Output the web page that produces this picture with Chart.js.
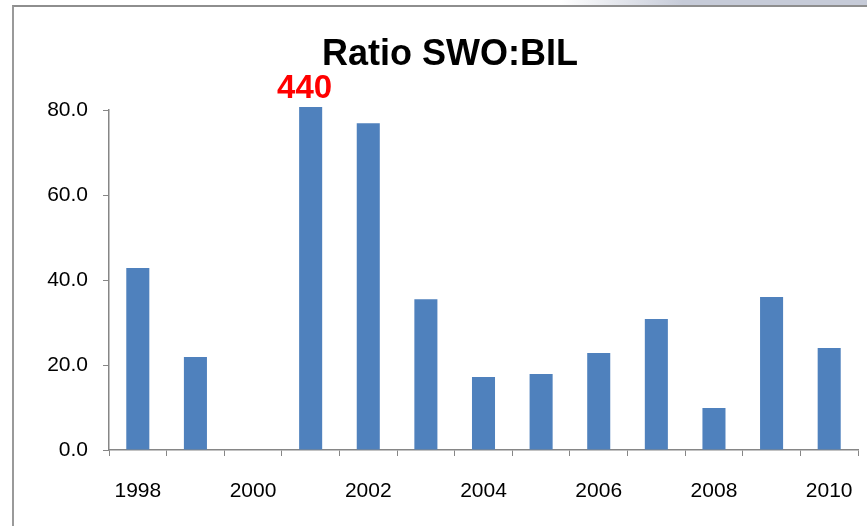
<!DOCTYPE html>
<html>
<head>
<meta charset="utf-8">
<script src="https://cdn.jsdelivr.net/npm/chart.js@4.4.0/dist/chart.umd.min.js"></script>
<style>
  html, body { margin: 0; padding: 0; background: #fff; }
  #wrap { position: relative; width: 867px; height: 526px; overflow: hidden; }
  #shade { position: absolute; left: 560px; top: 0; width: 307px; height: 5px;
           background: linear-gradient(to right, rgba(200,205,218,0), #c6cbd8 40%, #c6cbd8); }
  #frame { position: absolute; left: 12px; top: 5px; width: 900px; height: 600px;
           border-top: 2px solid #8e8e8e; border-left: 2px solid #9a9a9a; box-sizing: border-box; }
  canvas { position: absolute; left: 0; top: 0; }
</style>
</head>
<body>
<div id="wrap">
  <div id="shade"></div>
  <div id="frame"></div>
  <canvas id="c" width="867" height="526"></canvas>
</div>
<script>
const titleText = 'Ratio SWO:BIL';
const years = ['1998','1999','2000','2001','2002','2003','2004','2005','2006','2007','2008','2009','2010'];
const ratio = [42.8, 21.9, null, 440, 76.9, 35.5, 17.2, 17.9, 22.8, 30.8, 9.9, 36.0, 24.0];
const yTicks = [0, 20, 40, 60, 80];
const outlierIndex = 3;

const axisColor = '#868686';

const overlay = {
  id: 'overlay',
  afterDraw(chart) {
    const ctx = chart.ctx;
    ctx.save();
    ctx.fillStyle = '#000';
    ctx.font = 'bold 36px "Liberation Sans", Arial, sans-serif';
    ctx.textAlign = 'center';
    ctx.textBaseline = 'alphabetic';
    ctx.fillText(titleText, 450, 65);
    const el = chart.getDatasetMeta(0).data[outlierIndex];
    ctx.fillStyle = '#ff0000';
    ctx.font = 'bold 33px "Liberation Sans", Arial, sans-serif';
    ctx.fillText(String(ratio[outlierIndex]), el.x - 6, 98);
    ctx.restore();
  }
};

new Chart(document.getElementById('c'), {
  type: 'bar',
  data: {
    labels: years,
    datasets: [{
      data: ratio,
      backgroundColor: '#4f81bd',
      borderWidth: 0,
      barPercentage: 0.4,
      categoryPercentage: 1.0,
      clip: { left: 0, top: 3, right: 0, bottom: 0 }
    }]
  },
  options: {
    responsive: false,
    animation: false,
    events: [],
    layout: { padding: { top: 110, right: 9, bottom: 0, left: 14 } },
    plugins: { legend: { display: false }, title: { display: false }, tooltip: { enabled: false } },
    scales: {
      x: {
        afterFit(s) { s.height = 76; s.paddingLeft = 0; s.paddingRight = 0; },
        grid: { display: true, drawOnChartArea: false, drawTicks: true, tickLength: 6, color: axisColor, offset: true },
        border: { display: true, color: axisColor, width: 1.5 },
        ticks: {
          autoSkip: false, maxRotation: 0, color: '#000', padding: 23,
          font: { family: '"Liberation Sans", Arial, sans-serif', size: 21 },
          callback(v, i) { return i % 2 === 0 ? years[i] : ''; }
        }
      },
      y: {
        min: 0, max: 80,
        afterFit(s) { s.width = 95; s.paddingTop = 0; s.paddingBottom = 0; },
        afterBuildTicks(s) { s.ticks = yTicks.map(v => ({ value: v })); },
        grid: { display: true, drawOnChartArea: false, drawTicks: true, tickLength: 6, color: axisColor },
        border: { display: true, color: axisColor, width: 1.5 },
        ticks: {
          color: '#000', padding: 15,
          font: { family: '"Liberation Sans", Arial, sans-serif', size: 21 },
          callback(v) { return Number(v).toFixed(1); }
        }
      }
    }
  },
  plugins: [overlay]
});
</script>
</body>
</html>
